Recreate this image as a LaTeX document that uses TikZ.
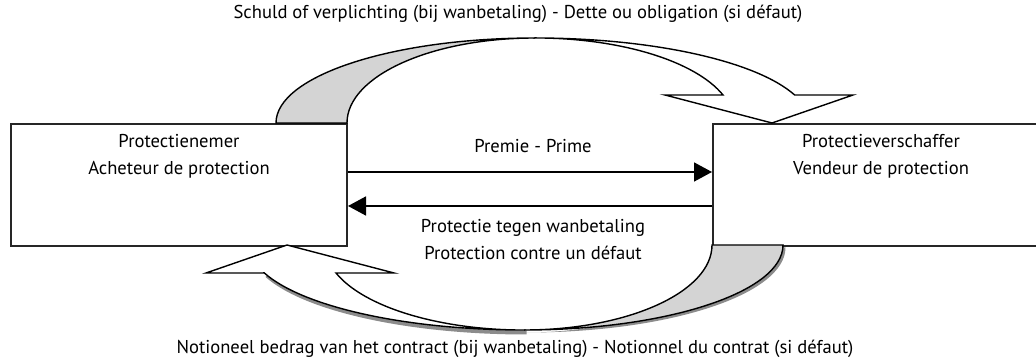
\documentclass[tikz,border=0pt]{standalone}
\usepackage{fontspec}
\setmainfont{PT Sans}
\usetikzlibrary{arrows.meta,calc}

% the bent block arrow: grey back part and white front part with its head
\newcommand{\bentback}[1]{%
  \path[#1] (276,240) arc[start angle=180,end angle=90,x radius=259,y radius=85]
    arc[start angle=90,end angle=180,x radius=188,y radius=85] -- cycle;}
\newcommand{\bentfront}[1]{%
  \path[#1] (535,325) arc[start angle=90,end angle=19.2,x radius=275,y radius=85]
    -- (853,268) -- (772,240) -- (665,268) -- (723,268)
    arc[start angle=19.2,end angle=90,x radius=199,y radius=85] -- cycle;}

\begin{document}
\begin{tikzpicture}[x=0.5pt,y=0.5pt,font=\fontsize{9.3}{13.5}\selectfont,
    party/.style={draw=black!85,line width=1pt,minimum width=168pt,minimum height=61pt,
      inner sep=0pt,anchor=north west},
    flow/.style={draw,line width=0.8pt,-{Triangle[length=9pt,width=9.5pt]}},
    back/.style={fill=black!17,draw,line width=0.7pt},
    front/.style={fill=white,draw,line width=0.7pt},
    shade/.style={fill=black!45}]
\useasboundingbox (0,0) rectangle (1036,363);

% buyer and seller
\node[party] (lbox) at (10,240) {};
\node[party] (rbox) at (712,240) {};
\node[align=center] (ltext) at ($(lbox.north)+(0,-33.5)$) {Protectienemer\\Acheteur de protection};
\node[align=center] (rtext) at ($(rbox.north)+(0,-33.5)$) {Protectieverschaffer\\Vendeur de protection};

% premium one way, protection the other
\draw[flow] (lbox.east |- 0,191) -- (rbox.west |- 0,191);
\draw[flow] (rbox.west |- 0,157) -- (lbox.east |- 0,157);
\node (prem) at (533,217) {Premie - Prime};
\node[align=center] (prot) at (533,123) {Protectie tegen wanbetaling\\Protection contre un défaut};

% upper bent arrow
\bentback{back}
\bentfront{front}

% lower bent arrow, same shape turned round, with a shadow
\begin{scope}[shift={(2.5,-2.5)}]
  \begin{scope}[rotate around={180:(529.5,179)}]
    \bentback{shade}
    \draw[black!45,line width=2pt] (535,325) arc[start angle=90,end angle=19.2,x radius=275,y radius=85];
  \end{scope}
\end{scope}
\begin{scope}[rotate around={180:(529.5,179)}]
  \bentback{back}
  \bentfront{front}
\end{scope}

\node (debt) at (518,349) {Schuld of verplichting (bij wanbetaling) - Dette ou obligation (si défaut)};
\node (notional) at (515,14) {Notioneel bedrag van het contract (bij wanbetaling) - Notionnel du contrat (si défaut)};
\end{tikzpicture}
\end{document}
